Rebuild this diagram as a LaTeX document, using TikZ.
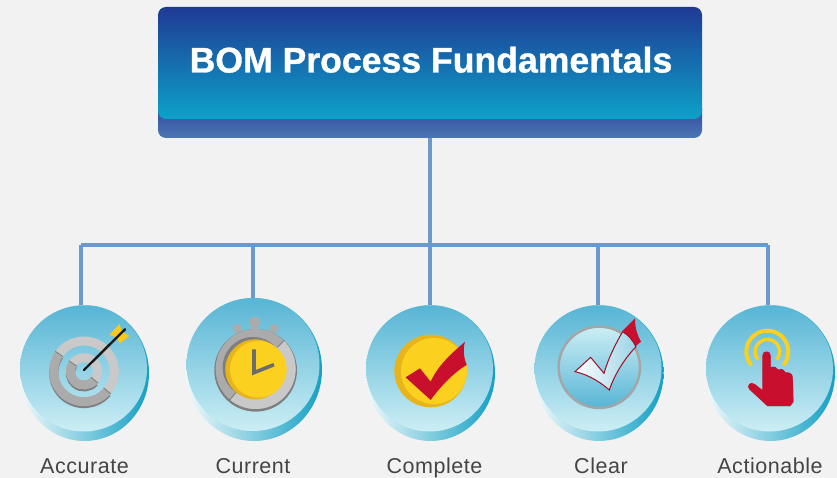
\documentclass[tikz,border=0pt]{standalone}
\usepackage{fontspec}
\setmainfont{Liberation Sans}
\newfontfamily\labelfont[LetterSpace=2.5]{Liberation Sans}
\newfontfamily\titlefont[BoldFeatures={FakeBold=1}]{Liberation Sans}
\definecolor{bgc}{HTML}{F2F2F2}
\definecolor{linkc}{HTML}{6A9ACB}
\definecolor{txtc}{HTML}{444444}
\definecolor{redc}{HTML}{C8102E}
\definecolor{yelc}{HTML}{FBD01E}
\definecolor{yeld}{HTML}{E8B41C}
\definecolor{grl}{HTML}{C9C9C9}
\definecolor{grm}{HTML}{ABABAB}
\definecolor{grd}{HTML}{7F7F7F}
\definecolor{HTMLa}{HTML}{2C429A}
\definecolor{HTMLb}{HTML}{4C76B4}
\definecolor{HTMLc}{HTML}{1F3A94}
\definecolor{HTMLd}{HTML}{3F79AE}
\definecolor{HTMLe}{HTML}{0CA2C9}
\definecolor{HTMLf}{HTML}{F0F9FB}
\definecolor{HTMLg}{HTML}{9ADBEA}
\definecolor{HTMLh}{HTML}{14A0C4}
\definecolor{HTMLi}{HTML}{57B5D5}
\definecolor{HTMLj}{HTML}{CCEEF5}
\usetikzlibrary{shapes.geometric}
\tikzset{
  x=1pt,y=-1pt,
  link/.style={draw=linkc,line width=3.4pt},
  boxbase/.style={rectangle,rounded corners=8pt,minimum width=544pt,minimum height=38pt,inner sep=0pt,top color=HTMLa,middle color=HTMLa,bottom color=HTMLb},
  boxface/.style={rectangle,rounded corners=8pt,minimum width=544pt,minimum height=112pt,inner sep=0pt,top color=HTMLc,middle color=HTMLd,bottom color=HTMLe},
  rimdisc/.style={ellipse,inner sep=0pt,left color=HTMLf,middle color=HTMLg,right color=HTMLh},
  facedisc/.style={ellipse,inner sep=0pt,top color=HTMLi,bottom color=HTMLj},
  itemlabel/.style={anchor=base,text=txtc,inner sep=0pt,font=\labelfont\fontsize{21.5}{25}\selectfont},
  zoomA/.style={shift={(0,290)},x=.3333pt,y=-.3333pt},
  zoomB/.style={shift={(340,290)},x=.3333pt,y=-.3333pt},
  zoomC/.style={shift={(660,290)},x=.3333pt,y=-.3333pt},
  ringw/.style={line width=9pt,line cap=butt},
  gapline/.style={draw=grd,line width=.9pt},
}
\begin{document}
\begin{tikzpicture}
\useasboundingbox (0,0) rectangle (837,478);
\fill[bgc] (0,0) rectangle (837,478);

% header
\node[boxbase] (base) at (430,119) {};
\node[boxface] (head) at (430,63) {};
\node[anchor=base,inner sep=0pt,text=white,font=\titlefont\bfseries\fontsize{35.6}{40}\selectfont] (title) at (431,72.5) {BOM Process Fundamentals};

% discs
\node[rimdisc,minimum width=129pt,minimum height=136pt] (accrim) at (84.5,373) {};
\node[facedisc,minimum width=127pt,minimum height=126pt] (acc) at (83.5,368.5) {};
\node[rimdisc,minimum width=136pt,minimum height=143pt] (currim) at (254,369.5) {};
\node[facedisc,minimum width=133pt,minimum height=133pt] (cur) at (253,364.5) {};
\node[rimdisc,minimum width=129pt,minimum height=136pt] (comrim) at (430.5,373) {};
\node[facedisc,minimum width=127pt,minimum height=126pt] (com) at (429.5,368.5) {};
\node[rimdisc,minimum width=129pt,minimum height=136pt] (clerim) at (599,373) {};
\node[facedisc,minimum width=127pt,minimum height=126pt] (cle) at (598,368.5) {};
\node[rimdisc,minimum width=129pt,minimum height=136pt] (actrim) at (770.5,373) {};
\node[facedisc,minimum width=127pt,minimum height=126pt] (act) at (769.5,368.5) {};

% connectors
\coordinate (busa) at (81,245);
\coordinate (busb) at (253,245);
\coordinate (busc) at (430,245);
\coordinate (busd) at (598,245);
\coordinate (buse) at (768,245);
\draw[link] (base.south) -- (busc |- comrim.north);
\draw[link,line cap=square] (busa) -- (buse);
\draw[link] (busa) -- (busa |- accrim.north);
\draw[link] (busb) -- (busb |- currim.north);
\draw[link] (busd) -- (busd |- clerim.north);
\draw[link] (buse) -- (buse |- actrim.north);

% target icon
\begin{scope}[zoomA]
  \draw[grd,ringw] (252,250) ++(40:91) arc (40:215:91);
  \draw[grd,ringw] (252,250) ++(40:41) arc (40:215:41);
  \draw[grl,ringw] (252,244) ++(-145:91) arc (-145:40:91);
  \draw[grm,ringw] (252,244) ++(40:91) arc (40:215:91);
  \draw[grl,ringw] (252,244) ++(-145:41) arc (-145:40:41);
  \draw[grm,ringw] (252,244) ++(40:41) arc (40:215:41);
  \draw[gapline] (252,244) ++(215:77) -- ++(215:28);
  \draw[gapline] (252,244) ++(40:77) -- ++(40:28);
  \draw[gapline] (252,244) ++(215:27) -- ++(215:28);
  \draw[gapline] (252,244) ++(40:27) -- ++(40:28);
  \fill[yelc!92!orange] (328,135) -- (358,102) -- (366,125) -- (388,138) -- (360,160) -- (350,142) -- cycle;
  \draw[black!90,line width=2.4pt,line cap=round] (252,240) -- (375,118);
\end{scope}

% stopwatch icon
\begin{scope}[zoomA]
  \fill[grm] (765,97) circle (17);
  \fill[grm] (756,100) rectangle (774,125);
  \fill[grm] (712,116) circle (14);
  \fill[grm] (822,116) circle (14);
  \fill[grd] (767,241) circle (124);
  \fill[grm] (767,237) circle (120);
  \fill[grl] (767,237) -- ++(-45:120) arc (-45:130:120) -- cycle;
  \draw[gapline] (767,237) ++(-45:92) -- ++(-45:30);
  \draw[gapline] (767,237) ++(130:92) -- ++(130:30);
  \fill[grd] (759,232) circle (91);
  \fill[yeld] (766,238) circle (90);
  \fill[yelc] (775,238) circle (85);
  \draw[grd!85!black,line width=3.6pt,line join=miter] (762,178) -- (762,248) -- (822,224);
\end{scope}

% tick icon
\begin{scope}[zoomB]
  \fill[yeld] (272,243) circle (109);
  \fill[yelc] (282,243) circle (99);
  \fill[redc] (197,262) -- (240,235) -- (272,275) .. controls (295,225) and (335,190) .. (375,155) .. controls (368,180) and (372,205) .. (380,225) .. controls (345,245) and (305,285) .. (272,330) -- cycle;
\end{scope}

% clear icon
\begin{scope}[zoomB]
  \draw[grd!70!white,line width=2.4pt,top color=HTMLj,bottom color=HTMLi] (778,232) circle (122);
  \fill[redc] (848,122) -- (885,85) .. controls (885,115) and (892,135) .. (903,155) -- (885,170) .. controls (875,150) and (860,135) .. (848,122) -- cycle;
  \draw[redc!80!black,line width=1pt,left color=white,right color=HTMLi!60!white] (705,245) -- (752,202) -- (792,250) .. controls (805,205) and (825,165) .. (848,125) .. controls (865,135) and (878,150) .. (888,170) .. controls (855,205) and (825,250) .. (808,300) .. controls (785,280) and (750,255) .. (705,245) -- cycle;
\end{scope}

% hand icon
\begin{scope}[zoomC]
  \draw[yelc,line width=4pt] (322,185) ++(-220:63) arc (-220:40:63);
  \draw[yelc,line width=3.4pt] (322,185) ++(-221:37) arc (-221:41:37);
  \fill[grd,shift={(1,1.2)}] (307,197) .. controls (307,180) and (332,180) .. (332,197) -- (332,232)
    .. controls (342,228) and (350,230) .. (354,238) .. controls (362,234) and (372,238) .. (376,247)
    .. controls (385,245) and (398,250) .. (398,262) -- (400,335) -- (390,348) -- (322,348)
    -- (268,298) .. controls (258,288) and (270,272) .. (284,282) -- (307,300) -- cycle;
  \fill[redc] (307,197) .. controls (307,180) and (332,180) .. (332,197) -- (332,232)
    .. controls (342,228) and (350,230) .. (354,238) .. controls (362,234) and (372,238) .. (376,247)
    .. controls (385,245) and (398,250) .. (398,262) -- (400,335) -- (390,348) -- (322,348)
    -- (268,298) .. controls (258,288) and (270,272) .. (284,282) -- (307,300) -- cycle;
\end{scope}

% labels
\node[itemlabel] (lacc) at (84.5,473) {Accurate};
\node[itemlabel] (lcur) at (253,473) {Current};
\node[itemlabel] (lcom) at (434.5,473) {Complete};
\node[itemlabel] (lcle) at (601,473) {Clear};
\node[itemlabel] (lact) at (770,473) {Actionable};
\end{tikzpicture}
\end{document}
